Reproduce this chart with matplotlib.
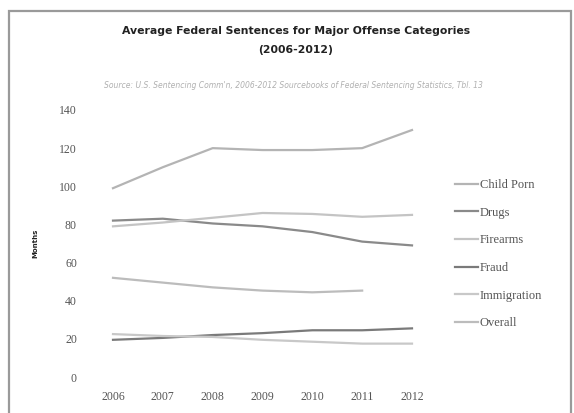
import numpy as np
import matplotlib
matplotlib.use("Agg")
import matplotlib.pyplot as plt
from matplotlib.patches import Rectangle

# -----------------------------
# DATA (months)
# -----------------------------

years = [2006, 2007, 2008, 2009, 2010, 2011, 2012]

child_porn = [99, 110, 120, 119, 119, 120, 129.5]
drugs = [82, 83, 80.5, 79, 76, 71, 69]
firearms = [79, 81, 83.5, 86, 85.5, 84, 85]
fraud = [19.5, 20.5, 22, 23, 24.5, 24.5, 25.5]
immigration = [22.5, 21.5, 21, 19.5, 18.5, 17.5, 17.5]
overall = [52, 49.5, 47, 45.3, 44.4, 45.3, np.nan]

series_names = ["Child Porn", "Drugs", "Firearms", "Fraud", "Immigration", "Overall"]
series_values = [child_porn, drugs, firearms, fraud, immigration, overall]
series_colors = ["#b4b4b4", "#8a8a8a", "#c4c4c4", "#7a7a7a", "#c8c8c8", "#bcbcbc"]

yticks = [0, 20, 40, 60, 80, 100, 120, 140]

# -----------------------------
# FIGURE
# -----------------------------

W, H = 574, 413
fig = plt.figure(figsize=(W / 100, H / 100), dpi=100)
fig.patch.set_facecolor("white")

# outer chart frame
fig.patches.append(Rectangle((9 / W, -0.05), (571 - 9) / W, (H - 11) / H + 0.05,
                             transform=fig.transFigure, fill=False,
                             edgecolor="#9a9a9a", linewidth=1.6))

ax = fig.add_axes([113 / W, (H - 377) / H, (412 - 113) / W, (377 - 110) / H])

for name, vals, col in zip(series_names, series_values, series_colors):
    ax.plot(years, vals, color=col, linewidth=1.6, label=name, clip_on=False)

ax.set_xlim(2006, 2012)
ax.set_ylim(0, 140)
ax.set_xticks(years)
ax.set_yticks(yticks)

for s in ax.spines.values():
    s.set_visible(False)

ax.tick_params(axis="both", length=0, labelcolor="#555555")
ax.tick_params(axis="y", pad=26)
ax.tick_params(axis="x", pad=10)
for lab in ax.get_xticklabels() + ax.get_yticklabels():
    lab.set_fontfamily("Liberation Serif")
    lab.set_fontsize(8.5)

ax.set_ylabel("Months", fontsize=5, fontweight="bold", labelpad=15, color="#222222")

# -----------------------------
# TITLES
# -----------------------------

fig.text(296 / W, 1 - 31 / H, "Average Federal Sentences for Major Offense Categories",
         ha="center", va="center", fontsize=7.8, fontweight="bold", color="#222222")
fig.text(296 / W, 1 - 50 / H, "(2006-2012)",
         ha="center", va="center", fontsize=7.8, fontweight="bold", color="#222222")
fig.text(293 / W, 1 - 86 / H,
         "Source: U.S. Sentencing Comm'n, 2006-2012 Sourcebooks of Federal Sentencing Statistics, Tbl. 13",
         ha="center", va="center", fontsize=5.5, style="italic", color="#b0b0b0")

# -----------------------------
# LEGEND
# -----------------------------

leg = ax.legend(loc="upper left", bbox_to_anchor=(455 / W, 1 - 179 / H),
                bbox_transform=fig.transFigure, frameon=False,
                prop={"family": "Liberation Serif", "size": 9},
                handlelength=1.8, handletextpad=0.2, labelspacing=1.25,
                borderpad=0, borderaxespad=0)
for t in leg.get_texts():
    t.set_color("#555555")

fig.savefig("out.png", dpi=100)
